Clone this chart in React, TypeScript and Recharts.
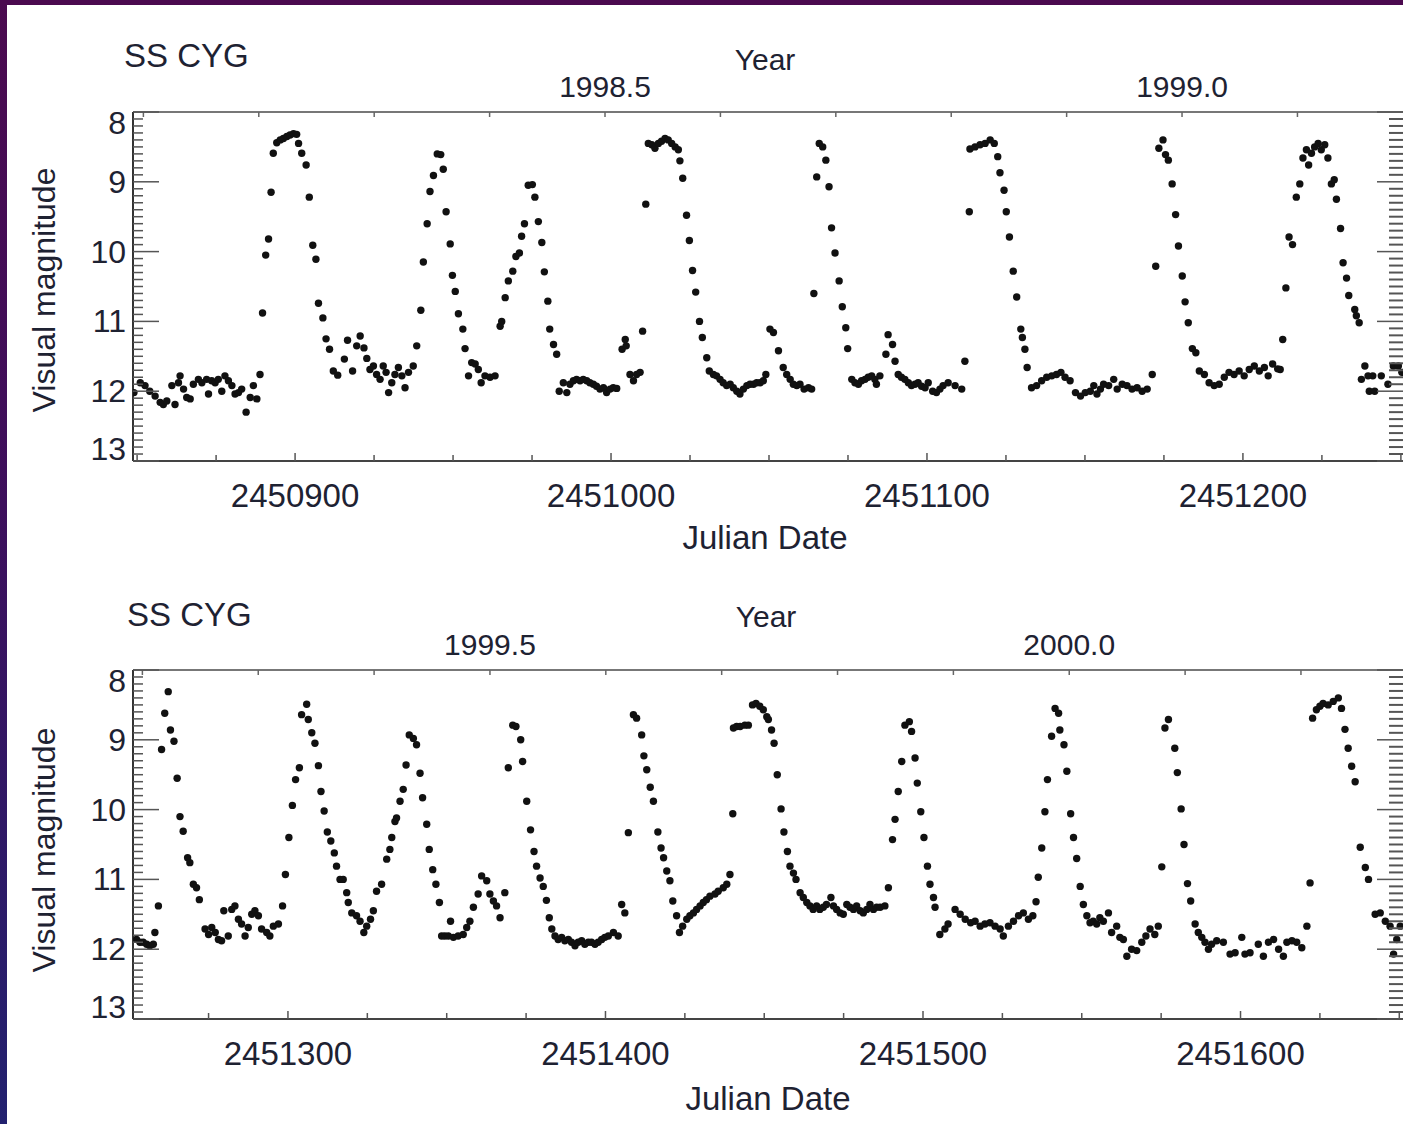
import { ScatterChart, Scatter, XAxis, YAxis } from 'recharts';

type Pt = [number, number];

// Julian Date is stored as JD - 2450000
const JD0 = 2450000;

// ---- top panel (JD 2450849 - 2451251) ----
const topQuiet0: Pt[] = [
  [849, 12.02], [851, 11.88], [852.5, 11.92], [854, 12.0], [855.7, 12.07], [857.3, 12.16], [858.3, 12.19],
  [859.4, 12.14], [861, 11.92], [862, 12.19], [863.1, 11.88], [863.6, 11.78], [864.7, 11.97], [865.7, 12.09],
  [866.8, 12.11], [867.8, 11.9], [869.4, 11.83], [870.5, 11.88], [872, 11.83], [872.6, 12.04], [873.6, 11.85],
  [874.7, 11.88], [875.7, 11.83], [876.8, 12.0], [877.8, 11.78], [878.9, 11.85], [880, 11.92], [881, 12.04],
  [882.1, 12.02], [883.1, 11.97], [884.5, 12.3], [885.8, 12.09], [886.8, 11.92], [887.9, 12.11], [888.9, 11.76],
];

const topCycle1: Pt[] = [
  [889.7, 10.88], [890.7, 10.05], [891.6, 9.82], [892.4, 9.15], [893.1, 8.59], [894.2, 8.44], [895.3, 8.4],
  [896.3, 8.38], [897.4, 8.35], [898.4, 8.33], [899.5, 8.31], [900.5, 8.32], [901.1, 8.45], [902.1, 8.59],
  [903.5, 8.76], [904.5, 9.22], [905.6, 9.91], [906.6, 10.11], [907.4, 10.74], [908.8, 10.95], [909.8, 11.25],
  [910.9, 11.4], [912.1, 11.71], [913.5, 11.77], [915.6, 11.54], [916.6, 11.27], [918.2, 11.71], [919.5, 11.35],
  [920.6, 11.21], [921.8, 11.38], [922.7, 11.53], [923.7, 11.69], [924.8, 11.64], [925.8, 11.76], [926.9, 11.83],
  [927.9, 11.64], [928.8, 11.73], [929.6, 12.02], [930.6, 11.88], [931.6, 11.76], [932.7, 11.66], [933.8, 11.78],
  [934.8, 11.95], [935.9, 11.73], [937.4, 11.64],
];

const topCycle2: Pt[] = [
  [938.5, 11.35], [939.8, 10.84], [940.6, 10.15], [941.8, 9.6], [942.7, 9.14], [943.8, 8.91], [945, 8.6],
  [946.1, 8.61], [946.9, 8.82], [947.8, 9.43], [949.1, 9.89], [949.8, 10.34], [950.7, 10.57], [951.7, 10.89],
  [953.1, 11.11], [953.8, 11.39], [954.9, 11.78], [955.9, 11.59], [957, 11.61], [958, 11.69], [958.9, 11.88],
  [960.1, 11.78], [961.7, 11.8], [963.3, 11.78],
];

const topCycle3: Pt[] = [
  [964.9, 11.07], [965.4, 11.0], [966.5, 10.66], [967.5, 10.42], [968.9, 10.28], [969.9, 10.07], [971, 10.02],
  [971.7, 9.78], [972.6, 9.6], [973.8, 9.05], [975.1, 9.04], [975.9, 9.22], [977, 9.57], [978.1, 9.87],
  [978.9, 10.29], [980, 10.71], [980.6, 11.11], [981.8, 11.33], [982.8, 11.47], [983.6, 12.0], [984.9, 11.88],
  [986, 12.02], [987, 11.9], [988.1, 11.85], [989.1, 11.83], [990.2, 11.85], [991.2, 11.83], [992.3, 11.85],
  [993.3, 11.88], [994.4, 11.9], [995.4, 11.93], [996.5, 11.97], [997.6, 11.95], [998.6, 12.02], [999.7, 11.97],
  [1000.7, 11.95], [1001.8, 11.96], [1003.5, 11.4], [1004.5, 11.26], [1004.8, 11.35], [1006, 11.76],
  [1007.1, 11.85], [1008.1, 11.76], [1009.2, 11.73], [1010, 11.14],
];

const topCycle4: Pt[] = [
  [1011, 9.32], [1011.8, 8.45], [1012.9, 8.47], [1013.9, 8.52], [1015, 8.45], [1016, 8.42], [1017.1, 8.38],
  [1018.1, 8.4], [1019.2, 8.45], [1020.3, 8.5], [1021.3, 8.54], [1021.8, 8.7], [1022.7, 8.95], [1023.9, 9.48],
  [1024.8, 9.84], [1025.8, 10.27], [1026.8, 10.58], [1028, 11.0], [1028.9, 11.23], [1030.3, 11.52],
  [1031.1, 11.71], [1032.4, 11.76], [1033.4, 11.78], [1034.5, 11.83], [1035.5, 11.88], [1036.6, 11.92],
  [1037.7, 11.9], [1038.7, 11.95], [1039.8, 12.0], [1040.8, 12.04], [1041.9, 11.97], [1043, 11.92], [1044, 11.9],
  [1045.1, 11.9], [1046.1, 11.88], [1047.2, 11.88], [1048.2, 11.85], [1049, 11.76], [1050.3, 11.11],
  [1051.4, 11.16], [1053, 11.42], [1054.5, 11.66], [1055.6, 11.76], [1056.7, 11.83], [1057.7, 11.9],
  [1058.8, 11.92], [1059.8, 11.9], [1061.1, 11.97], [1062.5, 11.95], [1063.5, 11.97],
];

const topCycle5: Pt[] = [
  [1064.2, 10.6], [1065.1, 8.93], [1065.9, 8.45], [1067, 8.5], [1068, 8.69], [1069, 9.07], [1069.8, 9.66],
  [1070.9, 10.02], [1072.2, 10.42], [1073.2, 10.79], [1074.3, 11.09], [1074.9, 11.39], [1076.2, 11.83],
  [1077.2, 11.88], [1078.3, 11.9], [1079.3, 11.85], [1080.4, 11.83], [1081.4, 11.8], [1082.5, 11.78],
  [1083.5, 11.83], [1084, 11.9], [1085.1, 11.78], [1087, 11.47], [1087.7, 11.19], [1089.1, 11.33],
  [1089.9, 11.57], [1090.9, 11.76], [1091.9, 11.8], [1093, 11.83], [1094.1, 11.88], [1095.1, 11.92],
  [1096.2, 11.9], [1097.2, 11.88], [1098.3, 11.93], [1099.4, 11.95], [1100.4, 11.88], [1101.8, 12.0],
  [1103, 12.02], [1104.1, 11.97], [1105.1, 11.92], [1106.7, 11.88], [1108.9, 11.92], [1111, 11.97],
];

const topCycle6: Pt[] = [
  [1112, 11.57], [1113.4, 9.43], [1113.6, 8.53], [1115.2, 8.5], [1116.8, 8.47], [1118.4, 8.45], [1120, 8.4],
  [1121.3, 8.45], [1122.4, 8.64], [1123.1, 8.87], [1124.4, 9.12], [1125.1, 9.43], [1126.1, 9.79],
  [1127.3, 10.28], [1128.4, 10.65], [1129.7, 11.11], [1130.2, 11.23], [1131, 11.4], [1131.7, 11.66],
  [1133.1, 11.95], [1134.7, 11.92], [1136.3, 11.85], [1137.9, 11.8], [1139.5, 11.78], [1141, 11.76],
  [1142.4, 11.73], [1143.7, 11.8], [1145.3, 11.85], [1147, 12.02], [1148.6, 12.07], [1150.1, 12.02],
  [1151.7, 12.0], [1152.8, 11.92], [1153.8, 12.04], [1154.9, 11.97], [1155.9, 11.9], [1157.5, 11.92],
  [1159.1, 11.83], [1160.2, 11.97], [1161.8, 11.9], [1163.3, 11.92], [1164.9, 11.97], [1166.5, 11.95],
  [1168.1, 12.0], [1169.7, 11.97], [1171.3, 11.76],
];

const topCycle7: Pt[] = [
  [1172.4, 10.21], [1173.4, 8.52], [1174.7, 8.4], [1175.5, 8.61], [1176.4, 8.69], [1177.6, 9.03], [1178.7, 9.47],
  [1179.6, 9.92], [1180.8, 10.35], [1181.7, 10.72], [1182.7, 11.02], [1184, 11.39], [1185.1, 11.45],
  [1186.2, 11.71], [1187.8, 11.76], [1189.3, 11.88], [1190.9, 11.92], [1192.5, 11.9], [1194.1, 11.8],
  [1195.6, 11.73], [1197.2, 11.76], [1198.8, 11.71], [1200.4, 11.78], [1202, 11.69], [1203.6, 11.64],
  [1205.2, 11.71], [1206.8, 11.66], [1208, 11.78], [1209.4, 11.61], [1211, 11.68], [1211.8, 11.69],
];

const topCycle8: Pt[] = [
  [1212.6, 11.26], [1213.6, 10.52], [1214.6, 9.79], [1215.7, 9.9], [1216.9, 9.22], [1218, 9.03], [1219, 8.66],
  [1220.1, 8.54], [1220.8, 8.76], [1221.7, 8.59], [1222.7, 8.5], [1223.8, 8.45], [1224.8, 8.54], [1225.9, 8.47],
  [1226.9, 8.66], [1228, 9.03], [1228.9, 8.97], [1229.6, 9.25], [1230.9, 9.67], [1231.7, 10.16], [1232.8, 10.38],
  [1233.5, 10.63], [1235.4, 10.83], [1235.9, 10.92], [1236.8, 11.02], [1237.5, 11.83], [1238.6, 11.64],
  [1239.6, 11.78], [1240, 12.0], [1241.1, 11.78], [1241.7, 12.0], [1243.8, 11.78], [1245.9, 11.9],
  [1247.6, 11.64], [1249.2, 11.64], [1250.3, 11.73],
];

// ---- bottom panel (JD 2451251 - 2451652) ----
const botCycle1: Pt[] = [
  [1252.3, 11.86], [1253.4, 11.9], [1254.4, 11.9], [1255.5, 11.93], [1256.5, 11.95], [1257.6, 11.93],
  [1258.1, 11.76], [1259.2, 11.38], [1260.2, 9.14], [1261.2, 8.62], [1262.3, 8.31], [1263, 8.86], [1264.1, 9.02],
  [1265.1, 9.55], [1266, 10.1], [1267, 10.31], [1268.4, 10.69], [1269.1, 10.76], [1270.2, 11.07], [1271.2, 11.12],
  [1272.1, 11.29], [1273.9, 11.71], [1275, 11.79], [1276, 11.69], [1277.1, 11.76], [1278.1, 11.86],
  [1279.1, 11.88], [1279.8, 11.45], [1281.2, 11.81], [1282.3, 11.43], [1283.3, 11.38], [1284.4, 11.57],
  [1285.4, 11.64], [1286.5, 11.81], [1287.5, 11.69], [1288.6, 11.5], [1289.6, 11.45], [1290.7, 11.52],
  [1291.7, 11.71], [1293.3, 11.76], [1294.3, 11.81], [1295.4, 11.67], [1297, 11.64], [1298.3, 11.38],
];

const botCycle2: Pt[] = [
  [1299.2, 10.93], [1300.3, 10.4], [1301.4, 9.94], [1302.4, 9.57], [1303.6, 9.4], [1304.3, 8.64], [1305.9, 8.49],
  [1306.4, 8.71], [1307.5, 8.9], [1308.5, 9.05], [1309.6, 9.37], [1310.4, 9.74], [1311.4, 10.02], [1312.4, 10.32],
  [1313.5, 10.45], [1314.6, 10.62], [1315.3, 10.81], [1316.4, 11.0], [1317.4, 11.0], [1318.5, 11.19],
  [1319, 11.33], [1320.1, 11.48], [1321.6, 11.52], [1322.7, 11.6], [1323.9, 11.76],
];

const botCycle3: Pt[] = [
  [1324.8, 11.67], [1326, 11.57], [1326.9, 11.45], [1327.9, 11.17], [1329.5, 11.07], [1331.1, 10.71],
  [1332.1, 10.57], [1332.7, 10.4], [1333.7, 10.17], [1334.2, 10.12], [1335.3, 9.88], [1336.3, 9.71],
  [1337.2, 9.36], [1338.2, 8.93], [1339.5, 8.98], [1340.5, 9.07], [1341.6, 9.48], [1342.4, 9.83],
  [1343.7, 10.21], [1344.5, 10.57], [1345.6, 10.86], [1346.6, 11.07], [1347.7, 11.33], [1348.4, 11.81],
  [1349.4, 11.81], [1350.5, 11.81], [1351.2, 11.6], [1352.1, 11.83], [1353.6, 11.81], [1355.2, 11.79],
  [1356.3, 11.69], [1357.3, 11.6], [1358.4, 11.4], [1359.9, 11.21], [1361, 10.95], [1362.6, 11.02],
  [1363.6, 11.21], [1364.7, 11.31], [1365.7, 11.38], [1366.8, 11.55], [1368.3, 11.19],
];

const botCycle4: Pt[] = [
  [1369.4, 9.4], [1370.8, 8.79], [1371.8, 8.81], [1373.3, 9.0], [1373.9, 9.31], [1375.2, 9.88], [1376.4, 10.29],
  [1377.5, 10.6], [1378.3, 10.81], [1379.4, 10.98], [1380.4, 11.1], [1381.4, 11.3], [1382.3, 11.55],
  [1383.1, 11.71], [1384.1, 11.81], [1385.1, 11.86], [1386.2, 11.83], [1387.2, 11.88], [1388.3, 11.86],
  [1389.3, 11.9], [1390.4, 11.95], [1391.4, 11.9], [1392.5, 11.88], [1393.5, 11.93], [1394.6, 11.9],
  [1395.6, 11.9], [1396.7, 11.93], [1397.7, 11.9], [1398.8, 11.86], [1399.8, 11.83], [1400.9, 11.81],
  [1402.5, 11.76], [1404, 11.81], [1405.1, 11.36], [1406.1, 11.48],
];

const botCycle5: Pt[] = [
  [1407.2, 10.33], [1408.8, 8.64], [1409.8, 8.69], [1411.4, 8.93], [1412.1, 9.23], [1413, 9.43], [1414.1, 9.68],
  [1415.1, 9.88], [1416.5, 10.32], [1417.5, 10.55], [1418.3, 10.69], [1419.3, 10.88], [1420.3, 11.02],
  [1421.2, 11.31], [1422.4, 11.52], [1423.3, 11.76], [1424.3, 11.67], [1425.6, 11.57], [1426.6, 11.52],
  [1427.7, 11.48], [1428.7, 11.43], [1429.8, 11.38], [1430.8, 11.33], [1431.8, 11.29], [1432.9, 11.24],
  [1434.5, 11.21], [1435.5, 11.17], [1437.1, 11.12], [1438.2, 11.07], [1439.2, 10.93], [1440.1, 10.06],
];

const botCycle6: Pt[] = [
  [1440.3, 8.83], [1441.3, 8.81], [1442.4, 8.81], [1443.9, 8.79], [1445, 8.79], [1446.3, 8.5], [1447.4, 8.48],
  [1448.6, 8.52], [1449.7, 8.57], [1450.8, 8.67], [1451.3, 8.71], [1452.3, 8.86], [1453.1, 9.05], [1454.1, 9.5],
  [1455.3, 9.99], [1456.2, 10.32], [1457.3, 10.6], [1458.1, 10.81], [1459.2, 10.91], [1460, 11.0],
  [1461.3, 11.19], [1462.3, 11.26], [1463.4, 11.33], [1464.4, 11.38], [1465.4, 11.43], [1466.5, 11.38],
  [1467.5, 11.43], [1468.6, 11.4], [1469.6, 11.36], [1471, 11.26], [1471.8, 11.38], [1472.8, 11.43],
  [1473.9, 11.48], [1474.9, 11.5], [1476, 11.36], [1477, 11.4], [1478.1, 11.43], [1479.1, 11.38],
  [1480.2, 11.45], [1481.2, 11.48], [1482.3, 11.43], [1483.3, 11.36], [1484.4, 11.43], [1485.4, 11.4],
  [1486.5, 11.4], [1488, 11.38], [1489.1, 11.12],
];

const botCycle7: Pt[] = [
  [1490.4, 10.43], [1491.2, 10.14], [1492.2, 9.74], [1493.3, 9.31], [1494.3, 8.79], [1495.7, 8.74],
  [1496.4, 8.88], [1497.5, 9.26], [1498.2, 9.62], [1499.3, 10.03], [1500.3, 10.4], [1501.4, 10.81],
  [1502.2, 11.07], [1503.3, 11.26], [1503.8, 11.4], [1505.3, 11.79], [1506.9, 11.71], [1507.9, 11.64],
  [1510.1, 11.43], [1511.7, 11.5], [1513.3, 11.57], [1515, 11.62], [1516.4, 11.6], [1518, 11.67],
  [1519.5, 11.64], [1521.1, 11.62], [1522.7, 11.67], [1524.3, 11.71], [1525.3, 11.81], [1526.9, 11.67],
  [1528.5, 11.6], [1530.1, 11.52], [1531.6, 11.48], [1533.2, 11.57], [1534.6, 11.52],
];

const botCycle8: Pt[] = [
  [1535.6, 11.32], [1536.3, 10.97], [1537.4, 10.55], [1538.4, 10.03], [1539.2, 9.57], [1540.5, 8.95],
  [1541.6, 8.55], [1542.7, 8.62], [1543.1, 8.86], [1544.4, 9.07], [1545.3, 9.45], [1546.5, 10.06],
  [1547.4, 10.4], [1548.4, 10.7], [1549.5, 11.1], [1550.5, 11.36], [1551.6, 11.52], [1552.6, 11.62],
  [1553.6, 11.6], [1554.7, 11.64], [1555.7, 11.55], [1556.8, 11.6], [1558.4, 11.48], [1559.4, 11.76],
  [1561, 11.67], [1562, 11.83], [1563.1, 11.86], [1564.2, 12.1], [1565.7, 12.0], [1567.3, 12.02],
  [1568.9, 11.9], [1570.2, 11.81], [1571.5, 11.71], [1573, 11.79], [1574.1, 11.67],
];

const botCycle9: Pt[] = [
  [1575.2, 10.82], [1576.2, 8.83], [1577.3, 8.71], [1579.3, 9.12], [1580.1, 9.47], [1581.3, 9.99],
  [1582.2, 10.5], [1583.3, 11.06], [1584.3, 11.31], [1585.7, 11.64], [1586.7, 11.76], [1587.8, 11.83],
  [1588.8, 11.9], [1589.9, 12.0], [1590.9, 11.93], [1592.5, 11.88], [1594.6, 11.9], [1596.7, 12.07],
  [1598.3, 12.05], [1600.4, 11.83], [1601.4, 12.07], [1603, 12.05], [1605.6, 11.93], [1607.2, 12.1],
  [1608.8, 11.9], [1610.4, 11.86], [1612, 12.0], [1613.5, 12.1], [1614.6, 11.9], [1616.2, 11.88],
  [1617.7, 11.9], [1619.3, 11.98], [1620.9, 11.67],
];

const botCycle10: Pt[] = [
  [1621.9, 11.05], [1622.7, 8.69], [1623.9, 8.57], [1625, 8.52], [1626, 8.48], [1627.6, 8.5], [1629.2, 8.45],
  [1630.8, 8.4], [1631.8, 8.55], [1632.9, 8.85], [1633.9, 9.12], [1635, 9.38], [1636.1, 9.6], [1637.7, 10.54],
  [1639.3, 10.83], [1640.3, 11.0], [1642.4, 11.5], [1644, 11.48], [1645.6, 11.6], [1647.1, 11.67],
  [1648.2, 12.07], [1649.2, 11.86], [1650.3, 11.67],
];

// ticks
const magMajor = [8, 9, 10, 11, 12, 13];
const magTicks = Array.from({ length: 51 }, (_, i) => Math.round((8 + i * 0.1) * 10) / 10);
const jdTicksTop = [850, 875, 900, 925, 950, 975, 1000, 1025, 1050, 1075, 1100, 1125, 1150, 1175, 1200, 1225, 1250];
const jdTicksBot = [1275, 1300, 1325, 1350, 1375, 1400, 1425, 1450, 1475, 1500, 1525, 1550, 1575, 1600, 1625, 1650];
const yearTicksTop = [1998.1, 1998.2, 1998.3, 1998.4, 1998.5, 1998.6, 1998.7, 1998.8, 1998.9, 1999.0, 1999.1];
const yearTicksBot = [1999.2, 1999.3, 1999.4, 1999.5, 1999.6, 1999.7, 1999.8, 1999.9, 2000.0, 2000.1, 2000.2];

const toRows = (pts: Pt[]) => pts.map(([x, y]) => ({ x, y }));
const topData = toRows([...topQuiet0, ...topCycle1, ...topCycle2, ...topCycle3, ...topCycle4, ...topCycle5, ...topCycle6, ...topCycle7, ...topCycle8]);
const botData = toRows([...botCycle1, ...botCycle2, ...botCycle3, ...botCycle4, ...botCycle5, ...botCycle6, ...botCycle7, ...botCycle8, ...botCycle9, ...botCycle10]);

const FONT = '"Liberation Sans", Arial, Helvetica, sans-serif';
const INK = '#1e2232';
const W = 1410;
const PL = 133;
const PR = 1405;

type PanelProps = {
  data: { x: number; y: number }[];
  height: number;
  pt: number;
  pb: number;
  jdDomain: [number, number];
  jdTicks: number[];
  yearDomain: [number, number];
  yearTicks: number[];
};

function Panel({ data, height, pt, pb, jdDomain, jdTicks, yearDomain, yearTicks }: PanelProps) {
  // anchors the year axis so Recharts builds its scale; draws nothing
  const yearAnchor = [{ yr: yearDomain[0], y: 13 }, { yr: yearDomain[1], y: 13 }];

  const magTick = (p: any) => {
    const v = p.payload.value;
    const y = p.y;
    const major = magMajor.includes(v);
    const dy = v === 8 ? 11 : v === 13 ? -12 : 0;
    return (
      <g>
        <line x1={PL} x2={PL + (major ? 26 : 10)} y1={y} y2={y} stroke="#555" strokeWidth={1.5} />
        <line x1={PR} x2={PR - (major ? 28 : 16)} y1={y} y2={y} stroke="#555" strokeWidth={major ? 1.5 : 2} />
        {major && (
          <text x={126} y={y + dy} textAnchor="end" dominantBaseline="central" fontSize={32} fontFamily={FONT} fill={INK}>
            {v}
          </text>
        )}
      </g>
    );
  };

  const jdTick = (p: any) => {
    const v = p.payload.value;
    const x = p.x;
    const major = v % 100 === 0;
    return (
      <g>
        <line x1={x} x2={x} y1={pb} y2={pb - (major ? 8 : 6)} stroke="#555" strokeWidth={1.5} />
        {major && (
          <text x={x} y={pb + 46} textAnchor="middle" fontSize={33} fontFamily={FONT} fill={INK}>
            {v + JD0}
          </text>
        )}
      </g>
    );
  };

  const yearTick = (p: any) => {
    const v = p.payload.value;
    const x = p.x;
    const labelled = Math.abs(v * 2 - Math.round(v * 2)) < 1e-6;
    return (
      <g>
        <line x1={x} x2={x} y1={pt} y2={pt + 5} stroke="#666" strokeWidth={1.5} />
        {labelled && (
          <text x={x} y={pt - 15} textAnchor="middle" fontSize={30} fontFamily={FONT} fill={INK}>
            {v.toFixed(1)}
          </text>
        )}
      </g>
    );
  };

  return (
    <ScatterChart width={W} height={height} margin={{ top: pt, right: W - PR, bottom: height - pb, left: PL }}>
      <XAxis
        xAxisId="jd"
        dataKey="x"
        type="number"
        domain={jdDomain}
        allowDataOverflow
        ticks={jdTicks}
        interval={0}
        mirror
        tickSize={0}
        tickMargin={0}
        tickLine={false}
        axisLine={{ stroke: '#444', strokeWidth: 2 }}
        tick={jdTick}
      />
      <XAxis
        xAxisId="year"
        dataKey="yr"
        orientation="top"
        type="number"
        domain={yearDomain}
        allowDataOverflow
        ticks={yearTicks}
        interval={0}
        mirror
        tickSize={0}
        tickMargin={0}
        tickLine={false}
        axisLine={{ stroke: '#777', strokeWidth: 2 }}
        tick={yearTick}
      />
      <YAxis
        yAxisId="mag"
        dataKey="y"
        type="number"
        domain={[8, 13]}
        reversed
        allowDataOverflow
        ticks={magTicks}
        interval={0}
        mirror
        tickSize={0}
        tickMargin={0}
        tickLine={false}
        axisLine={{ stroke: '#333', strokeWidth: 2 }}
        tick={magTick}
      />
      <Scatter
        xAxisId="year"
        yAxisId="mag"
        dataKey="y"
        data={yearAnchor}
        isAnimationActive={false}
        shape={() => <g />}
      />
      <Scatter
        xAxisId="jd"
        yAxisId="mag"
        data={data}
        isAnimationActive={false}
        shape={(p: any) => <circle cx={p.cx} cy={p.cy} r={3.7} fill="#111" />}
      />
    </ScatterChart>
  );
}

export default function App() {
  return (
    <div
      style={{
        position: 'relative',
        width: 1403,
        height: 1124,
        overflow: 'hidden',
        background: 'linear-gradient(180deg, #4b0a4f 0%, #3d0f5c 45%, #22216f 100%)',
        fontFamily: FONT,
      }}
    >
      <style>{'body{margin:0;overflow:hidden}'}</style>
      <div style={{ position: 'absolute', left: 7, top: 5, right: 0, bottom: 0, background: '#fff' }} />
      <div style={{ position: 'absolute', left: 0, top: 0 }}>
        <Panel
          data={topData}
          height={560}
          pt={112}
          pb={461}
          jdDomain={[848.7, 1251.3]}
          jdTicks={jdTicksTop}
          yearDomain={[1998.091, 1999.1932]}
          yearTicks={yearTicksTop}
        />
      </div>
      <div style={{ position: 'absolute', left: 0, top: 560 }}>
        <Panel
          data={botData}
          height={564}
          pt={110}
          pb={459}
          jdDomain={[1251.2, 1651.8]}
          jdTicks={jdTicksBot}
          yearDomain={[1999.1919, 2000.2898]}
          yearTicks={yearTicksBot}
        />
      </div>
      <svg width={1403} height={1124} style={{ position: 'absolute', left: 0, top: 0, pointerEvents: 'none' }}>
        <g fontFamily={FONT} fill={INK}>
          <text x={124} y={67} fontSize={33}>SS CYG</text>
          <text x={765} y={70} fontSize={30} textAnchor="middle">Year</text>
          <text x={765} y={549} fontSize={33} textAnchor="middle">Julian Date</text>
          <text x={44} y={290} fontSize={32} textAnchor="middle" dominantBaseline="central" transform="rotate(-90 44 290)">
            Visual magnitude
          </text>
          <text x={127} y={626} fontSize={33}>SS CYG</text>
          <text x={766} y={627} fontSize={30} textAnchor="middle">Year</text>
          <text x={768} y={1110} fontSize={33} textAnchor="middle">Julian Date</text>
          <text x={44} y={850} fontSize={32} textAnchor="middle" dominantBaseline="central" transform="rotate(-90 44 850)">
            Visual magnitude
          </text>
        </g>
      </svg>
    </div>
  );
}
